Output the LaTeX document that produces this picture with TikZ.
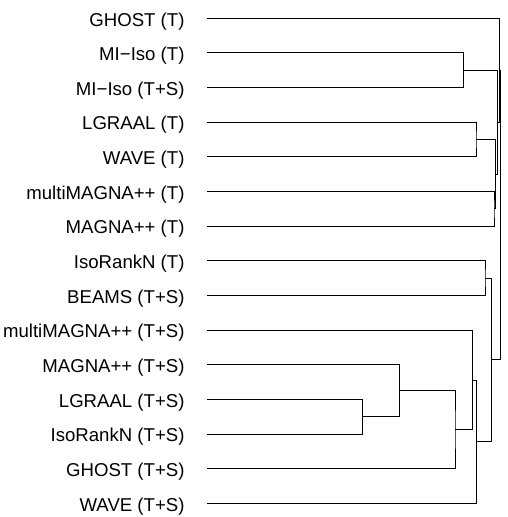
\documentclass[tikz,border=0pt]{standalone}
\usepackage{fontspec}
\setmainfont{Liberation Sans}

\begin{document}
\begin{tikzpicture}[x=1pt,y=-1pt,line width=1pt,
    lab/.style={anchor=base east,inner sep=0pt,xshift=-21.7pt,yshift=-7.7pt,font=\fontsize{18.6}{22}\selectfont}]

            \useasboundingbox (0,0) rectangle (508,517);

            % leaves (start of each leaf line)
            \coordinate (ghostT) at (206.7,18.3);
            \coordinate (misoT) at (206.7,52.9);
            \coordinate (misoTS) at (206.7,87.6);
            \coordinate (lgraalT) at (206.7,122.2);
            \coordinate (waveT) at (206.7,156.9);
            \coordinate (mmagnaT) at (206.7,191.5);
            \coordinate (magnaT) at (206.7,226.1);
            \coordinate (isoT) at (206.7,260.8);
            \coordinate (beamsTS) at (206.7,295.4);
            \coordinate (mmagnaTS) at (206.7,330.1);
            \coordinate (magnaTS) at (206.7,364.7);
            \coordinate (lgraalTS) at (206.7,399.3);
            \coordinate (isoTS) at (206.7,434.0);
            \coordinate (ghostTS) at (206.7,468.6);
            \coordinate (waveTS) at (206.7,503.3);

            \node[lab] (ghostT-l) at (ghostT) {GHOST (T)};
            \node[lab] (misoT-l) at (misoT) {MI−Iso (T)};
            \node[lab] (misoTS-l) at (misoTS) {MI−Iso (T+S)};
            \node[lab] (lgraalT-l) at (lgraalT) {LGRAAL (T)};
            \node[lab] (waveT-l) at (waveT) {WAVE (T)};
            \node[lab] (mmagnaT-l) at (mmagnaT) {multiMAGNA++ (T)};
            \node[lab] (magnaT-l) at (magnaT) {MAGNA++ (T)};
            \node[lab] (isoT-l) at (isoT) {IsoRankN (T)};
            \node[lab] (beamsTS-l) at (beamsTS) {BEAMS (T+S)};
            \node[lab] (mmagnaTS-l) at (mmagnaTS) {multiMAGNA++ (T+S)};
            \node[lab] (magnaTS-l) at (magnaTS) {MAGNA++ (T+S)};
            \node[lab] (lgraalTS-l) at (lgraalTS) {LGRAAL (T+S)};
            \node[lab] (isoTS-l) at (isoTS) {IsoRankN (T+S)};
            \node[lab] (ghostTS-l) at (ghostTS) {GHOST (T+S)};
            \node[lab] (waveTS-l) at (waveTS) {WAVE (T+S)};

            % merges (height, middle)
            \coordinate (m1) at (463.3,70.3);
            \coordinate (m2) at (476.0,139.6);
            \coordinate (m3) at (494.0,208.9);
            \coordinate (m4) at (495.7,174.2);
            \coordinate (m5) at (497.8,122.2);
            \coordinate (m6) at (499.3,70.3);
            \coordinate (ma) at (362.3,416.8);
            \coordinate (mb) at (399.3,390.8);
            \coordinate (mc) at (455.0,429.8);
            \coordinate (md) at (472.7,380.0);
            \coordinate (me) at (476.7,441.7);
            \coordinate (mi) at (485.0,278.2);
            \coordinate (mf) at (491.7,359.9);
            \coordinate (root) at (500.5,215.1);

            \draw (misoT) -| (m1) |- (misoTS);
            \draw (lgraalT) -| (m2) |- (waveT);
            \draw (mmagnaT) -| (m3) |- (magnaT);
            \draw (m2) -| (m4) |- (m3);
            \draw (m1) -| (m5) |- (m4);
            \draw (ghostT) -| (m6) |- (m5);
            \draw (lgraalTS) -| (ma) |- (isoTS);
            \draw (magnaTS) -| (mb) |- (ma);
            \draw (mb) -| (mc) |- (ghostTS);
            \draw (mmagnaTS) -| (md) |- (mc);
            \draw (md) -| (me) |- (waveTS);
            \draw (isoT) -| (mi) |- (beamsTS);
            \draw (mi) -| (mf) |- (me);
            \draw (m6) -| (root) |- (mf);

            ;
        \end{tikzpicture}
\end{document}
